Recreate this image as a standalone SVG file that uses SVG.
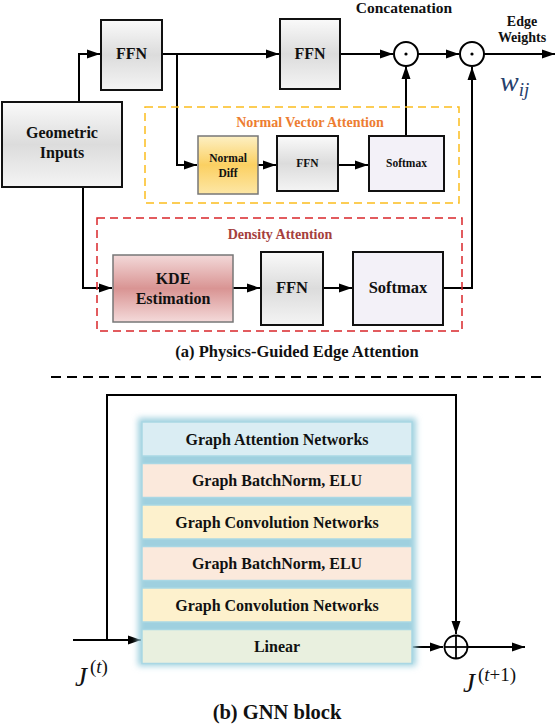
<svg xmlns="http://www.w3.org/2000/svg" width="556" height="725" viewBox="0 0 556 725" font-family="Liberation Serif, serif">
<style>
text{font-weight:bold;fill:#111;text-anchor:middle}
.box{stroke:#111;stroke-width:2}
.gbox{stroke:#777;stroke-width:1.5}
.ln{fill:none;stroke:#000;stroke-width:2}
.lyr{stroke:#a9d7e4;stroke-width:1.5}
.math{font-weight:normal;text-anchor:start}
</style>
<defs>
<linearGradient id="gray" x1="0" y1="0" x2="0" y2="1">
<stop offset="0" stop-color="#fafafa"/><stop offset="0.5" stop-color="#dcdcdc"/><stop offset="1" stop-color="#f4f4f4"/>
</linearGradient>
<linearGradient id="red" x1="0" y1="0" x2="0" y2="1">
<stop offset="0" stop-color="#f3d9d9"/><stop offset="0.5" stop-color="#d99493"/><stop offset="1" stop-color="#f4dada"/>
</linearGradient>
<linearGradient id="yel" x1="0" y1="0" x2="0" y2="1">
<stop offset="0" stop-color="#fdf0c4"/><stop offset="0.5" stop-color="#fbd062"/><stop offset="1" stop-color="#fde7a6"/>
</linearGradient>
<filter id="glow" x="-10%" y="-10%" width="120%" height="120%"><feGaussianBlur stdDeviation="3"/></filter>
<marker id="ar" markerUnits="userSpaceOnUse" markerWidth="14" markerHeight="10" refX="13" refY="5" orient="auto">
<path d="M0,0.5 L13,5 L0,9.5 Z" fill="#000"/>
</marker>
</defs>

<g id="connectors">
<polyline class="ln" points="79,102 79,54 100,54" marker-end="url(#ar)"/>
<line class="ln" x1="162" y1="54" x2="279" y2="54" marker-end="url(#ar)"/>
<polyline class="ln" points="177,54 177,165 197,165" marker-end="url(#ar)"/>
<line class="ln" x1="258" y1="165" x2="276" y2="165" marker-end="url(#ar)"/>
<line class="ln" x1="338" y1="165" x2="368" y2="165" marker-end="url(#ar)"/>
<line class="ln" x1="406" y1="136" x2="406" y2="66" marker-end="url(#ar)"/>
<line class="ln" x1="340" y1="54" x2="393" y2="54" marker-end="url(#ar)"/>
<line class="ln" x1="418" y1="54" x2="459" y2="54" marker-end="url(#ar)"/>
<line class="ln" x1="484" y1="54" x2="555" y2="54" marker-end="url(#ar)"/>
<polyline class="ln" points="83,187 83,288 112,288" marker-end="url(#ar)"/>
<line class="ln" x1="233" y1="288" x2="260" y2="288" marker-end="url(#ar)"/>
<line class="ln" x1="323" y1="288" x2="352" y2="288" marker-end="url(#ar)"/>
<polyline class="ln" points="443,288 472,288 472,67" marker-end="url(#ar)"/>
<line x1="51" y1="377" x2="541" y2="377" stroke="#000" stroke-width="2" stroke-dasharray="10,6"/>
<polyline class="ln" points="107,640 107,395 456,395 456,634" marker-end="url(#ar)"/>
<line class="ln" x1="73" y1="640" x2="141" y2="640" marker-end="url(#ar)"/>
<line class="ln" x1="412" y1="647" x2="443" y2="647" marker-end="url(#ar)"/>
<line class="ln" x1="468" y1="647" x2="525" y2="647" marker-end="url(#ar)"/>
</g>

<g id="normal-vector-attention">
<rect x="145" y="107" width="314" height="96" fill="none" stroke="#fbbd1e" stroke-width="1.5" stroke-dasharray="8,5"/>
<text x="310" y="127" font-size="14" style="fill:#ed7d31">Normal Vector Attention</text>
</g>
<g id="density-attention">
<rect x="97" y="218" width="365" height="113" fill="none" stroke="#d9262a" stroke-width="1.5" stroke-dasharray="8,5"/>
<text x="280" y="239" font-size="14" style="fill:#a5403d">Density Attention</text>
</g>

<g id="geometric-inputs">
<rect class="box" x="2" y="102" width="120" height="85" fill="url(#gray)"/>
<text x="62" y="138" font-size="16">Geometric</text>
<text x="62" y="158" font-size="16">Inputs</text>
</g>
<g id="ffn1">
<rect class="box" x="101" y="20" width="61" height="70" fill="url(#gray)"/>
<text x="131.5" y="59" font-size="16">FFN</text>
</g>
<g id="ffn2">
<rect class="box" x="280" y="19" width="60" height="70" fill="url(#gray)"/>
<text x="310" y="59" font-size="16">FFN</text>
</g>
<g id="concat">
<circle cx="406" cy="54" r="12" fill="#fff" stroke="#000" stroke-width="2"/>
<circle cx="406" cy="54" r="1.6" fill="#000"/>
<text x="404" y="13" font-size="15.5">Concatenation</text>
</g>
<g id="mult">
<circle cx="472" cy="54" r="12" fill="#fff" stroke="#000" stroke-width="2"/>
<circle cx="472" cy="54" r="1.6" fill="#000"/>
</g>
<g id="edge-weights">
<text x="522" y="26" font-size="14">Edge</text>
<text x="522" y="42" font-size="14">Weights</text>
<text class="math" x="500" y="91" font-size="28" font-style="italic" style="fill:#26406c">w<tspan font-size="19" dy="5">ij</tspan></text>
</g>
<g id="normal-diff">
<rect class="gbox" x="198" y="136" width="60" height="58" fill="url(#yel)"/>
<text x="228" y="162" font-size="11.5">Normal</text>
<text x="228" y="177" font-size="11.5">Diff</text>
</g>
<g id="ffn-small">
<rect class="box" x="277" y="136" width="61" height="55" fill="url(#gray)"/>
<text x="307.5" y="167" font-size="11.5">FFN</text>
</g>
<g id="softmax-small">
<rect class="box" x="369" y="136" width="75" height="55" fill="#f3f1f8"/>
<text x="406.5" y="167" font-size="11.5">Softmax</text>
</g>
<g id="kde">
<rect class="gbox" x="113" y="255" width="120" height="67" fill="url(#red)"/>
<text x="173" y="284" font-size="16">KDE</text>
<text x="173" y="304" font-size="16">Estimation</text>
</g>
<g id="ffn3">
<rect class="box" x="261" y="252" width="62" height="73" fill="url(#gray)"/>
<text x="292" y="293" font-size="16.5">FFN</text>
</g>
<g id="softmax3">
<rect class="box" x="353" y="252" width="90" height="73" fill="#f3f1f8"/>
<text x="398" y="293" font-size="16.5">Softmax</text>
</g>
<text x="297" y="357" font-size="16.5">(a) Physics-Guided Edge Attention</text>

<g id="gnn-stack">
<rect x="138" y="418" width="278" height="248" fill="#9fd0df" filter="url(#glow)"/>
</g>
<g id="gat">
<rect class="lyr" x="142" y="422" width="270" height="34" fill="#daedf3"/>
<text x="277" y="444.5" font-size="16">Graph Attention Networks</text>
</g>
<g id="bn1">
<rect class="lyr" x="142" y="463.5" width="270" height="34" fill="#fbe9dc"/>
<text x="277" y="486" font-size="16">Graph BatchNorm, ELU</text>
</g>
<g id="gcn1">
<rect class="lyr" x="142" y="505" width="270" height="34" fill="#fdf1cd"/>
<text x="277" y="527.5" font-size="16">Graph Convolution Networks</text>
</g>
<g id="bn2">
<rect class="lyr" x="142" y="546.5" width="270" height="34" fill="#fbe9dc"/>
<text x="277" y="569" font-size="16">Graph BatchNorm, ELU</text>
</g>
<g id="gcn2">
<rect class="lyr" x="142" y="588" width="270" height="34" fill="#fdf1cd"/>
<text x="277" y="610.5" font-size="16">Graph Convolution Networks</text>
</g>
<g id="linear">
<rect class="lyr" x="142" y="629.5" width="270" height="34" fill="#e9f0df"/>
<text x="277" y="652" font-size="16">Linear</text>
</g>
<g id="add">
<circle cx="456" cy="647" r="11.5" fill="#fff" stroke="#000" stroke-width="1.8"/>
<line x1="444.5" y1="647" x2="467.5" y2="647" stroke="#000" stroke-width="1.8"/>
<line x1="456" y1="635.5" x2="456" y2="658.5" stroke="#000" stroke-width="1.8"/>
</g>
<g id="j-t">
<text class="math" x="75" y="686" font-size="27" font-weight="bold" font-style="italic">J<tspan font-size="19" font-weight="normal" font-style="normal" dx="3" dy="-13">(</tspan><tspan font-size="19" font-weight="normal">t</tspan><tspan font-size="19" font-weight="normal" font-style="normal">)</tspan></text>
</g>
<g id="j-t1">
<text class="math" x="463" y="692" font-size="27" font-weight="bold" font-style="italic">J<tspan font-size="19" font-weight="normal" font-style="normal" dx="3" dy="-11">(</tspan><tspan font-size="19" font-weight="normal">t</tspan><tspan font-size="19" font-weight="normal" font-style="normal">+1)</tspan></text>
</g>
<text x="277" y="719" font-size="20.5">(b) GNN block</text>
</svg>
